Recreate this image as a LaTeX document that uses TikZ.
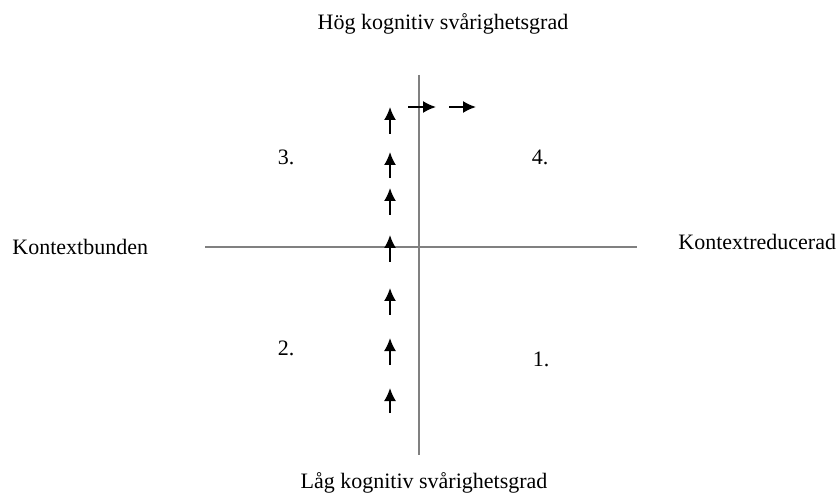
\documentclass[tikz,border=0pt]{standalone}
\usepackage{fontspec}
\setmainfont{Liberation Serif}
\usetikzlibrary{arrows.meta}
\begin{document}
\begin{tikzpicture}[x=0.5pt,y=-0.5pt,
  axis/.style={draw=black!50,line width=1pt},
  arr/.style={draw=black,line width=0.9pt,-{Latex[length=6.5pt,width=6pt]}},
  lbl/.style={font=\fontsize{11pt}{13pt}\selectfont,inner sep=0pt,anchor=base},
  num/.style={font=\fontsize{11pt}{13pt}\selectfont,inner sep=0pt,anchor=base}]
\useasboundingbox (0,0) rectangle (838,501);
% axes
\coordinate (vt) at (419,75);
\coordinate (vb) at (419,455);
\coordinate (hl) at (205,247);
\coordinate (hr) at (637,247);
\draw[axis] (vt) -- (vb);
\draw[axis] (hl) -- (hr);
% labels
\node[lbl] (hog) at (443,30) {Hög kognitiv svårighetsgrad};
\node[lbl] (lag) at (424,488) {Låg kognitiv svårighetsgrad};
\node[lbl,anchor=base west] (kb) at (12,255) {Kontextbunden};
\node[lbl,anchor=base west] (kr) at (678,250) {Kontextreducerad};
\node[num] (n3) at (286,165) {3.};
\node[num] (n4) at (540,165) {4.};
\node[num] (n2) at (286,355) {2.};
\node[num] (n1) at (541,366) {1.};
% up arrows
\foreach \i/\a/\b in {1/134/107,2/178/152,3/215/188,4/262/235,5/315/288,6/365/338,7/413/388}{
  \coordinate (us\i) at (390,\a);
  \coordinate (ue\i) at (390,\b);
  \draw[arr] (us\i) -- (ue\i);
}
% right arrows
\coordinate (rs1) at (408,107);
\coordinate (re1) at (436,107);
\coordinate (rs2) at (449,107);
\coordinate (re2) at (476,107);
\draw[arr] (rs1) -- (re1);
\draw[arr] (rs2) -- (re2);
\end{tikzpicture}
\end{document}
